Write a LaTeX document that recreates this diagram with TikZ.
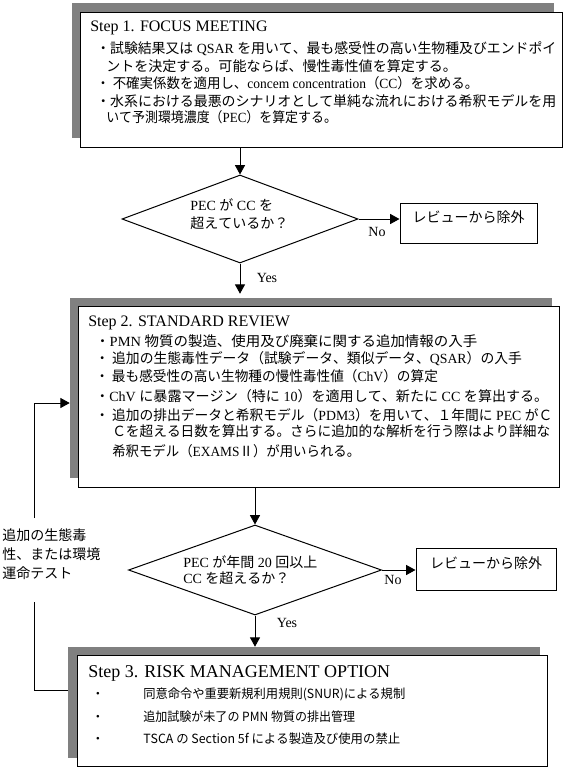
\documentclass[tikz,border=0pt]{standalone}
\usepackage{fontspec}
\usepackage{graphicx}
\setmainfont{Liberation Serif}
\newfontfamily\cjk[Kerning=Off]{Noto Sans CJK JP}
\usetikzlibrary{shapes.geometric,arrows.meta,fit}
\newcommand\jp[1]{{\cjk #1}}
\newcommand\fitto[2]{\resizebox{#1}{\height}{#2}}
\definecolor{shdgray}{HTML}{808080}
\tikzset{
  shd/.style={fill=shdgray, draw=none, inner sep=0pt},
  bx/.style={fill=white, draw=black, line width=0.75pt, inner sep=0pt},
  ln/.style={anchor=west, inner sep=0pt, text height=7.5pt, text depth=2pt, font=\fontsize{10.5}{12}\selectfont},
  ln3/.style={anchor=west, inner sep=0pt, text height=7pt, text depth=2pt, font=\cjk\fontsize{9.5}{11}\selectfont},
  ttl/.style={anchor=west, inner sep=0pt, font=\fontsize{12}{14}\selectfont},
  mt/.style={anchor=west, inner sep=0pt, align=left},
  lab/.style={inner sep=0pt, font=\fontsize{10.5}{12}\selectfont},
  dia/.style={diamond, draw=black, line width=0.75pt, inner sep=0pt, fill=white},
  arr/.style={draw, line width=0.75pt, -{Triangle[length=7pt,width=7.5pt]}},
  lin/.style={draw, line width=0.75pt}
}
\begin{document}
\begin{tikzpicture}[x=0.75pt,y=-0.75pt]
\useasboundingbox (0,0) rectangle (565,769);
% ---------- Step 1 ----------
\node[shd, fit={(72,3)(554,138)}] (s1) {};
\node[bx, fit={(80,12)(562,147)}] (b1) {};
\node[ttl] (t1) at (90,28) {Step 1. FOCUS MEETING};
\node[ln] (l11) at (96,50) {\fitto{345pt}{\jp{・試験結果又は} QSAR \jp{を用いて、最も感受性の高い生物種及びエンドポイ}}};
\node[ln] (l12) at (106,68) {\fitto{263pt}{\jp{ントを決定する。可能ならば、慢性毒性値を算定する。}}};
\node[ln] (l13) at (96,85) {\fitto{286.5pt}{\jp{・ 不確実係数を適用し、}concem concentration\jp{（}CC\jp{）を求める。}}};
\node[ln] (l14) at (96,103) {\fitto{345pt}{\jp{・水系における最悪のシナリオとして単純な流れにおける希釈モデルを用}}};
\node[ln] (l15) at (106,119) {\fitto{173pt}{\jp{いて予測環境濃度（}PEC\jp{）を算定する。}}};
% ---------- Decision 1 ----------
\node[dia, minimum width=177pt, minimum height=66pt] (d1) at (240,219) {};
\node[mt, font=\fontsize{10.5}{13.5}\selectfont] (q1) at (190,214) {PEC \jp{が} CC \jp{を}\\\jp{超えているか？}};
\node[bx, fit={(400,203)(537,243)}, font=\cjk\fontsize{10.5}{12}\selectfont] (r1) {レビューから除外};
\node[lab] (no1) at (377,232) {No};
\node[lab] (yes1) at (267,278) {Yes};
% ---------- Step 2 ----------
\node[shd, fit={(70,298)(552,478)}] (s2) {};
\node[bx, fit={(78,306)(559,487)}] (b2) {};
\node[ttl] (t2) at (88,323) {Step 2. STANDARD REVIEW};
\node[ln] (l21) at (95,343) {\fitto{286.5pt}{\jp{・}PMN \jp{物質の製造、使用及び廃棄に関する追加情報の入手}}};
\node[ln] (l22) at (95,360) {\fitto{320pt}{\jp{・ 追加の生態毒性データ（試験データ、類似データ、}QSAR\jp{）の入手}}};
\node[ln] (l23) at (95,378) {\fitto{257pt}{\jp{・ 最も感受性の高い生物種の慢性毒性値（}ChV\jp{）の算定}}};
\node[ln] (l24) at (95,398) {\fitto{339.75pt}{\jp{・}ChV \jp{に暴露マージン（特に} 10\jp{）を適用して、新たに} CC \jp{を算出する。}}};
\node[ln] (l25) at (95,417) {\fitto{342.75pt}{\jp{・ 追加の排出データと希釈モデル（}PDM3\jp{）を用いて、１年間に} PEC \jp{がＣ}}};
\node[ln] (l26) at (112,433) {\fitto{328.5pt}{\jp{Ｃを超える日数を算出する。さらに追加的な解析を行う際はより詳細な}}};
\node[ln] (l27) at (112,453) {\fitto{186pt}{\jp{希釈モデル（}EXAMS\jp{Ⅱ）が用いられる。}}};
% ---------- Decision 2 ----------
\node[dia, minimum width=189.75pt, minimum height=67.5pt] (d2) at (255,570) {};
\node[mt, font=\fontsize{10.5}{12}\selectfont] (q2) at (183,570) {PEC \jp{が年間} 20 \jp{回以上}\\CC \jp{を超えるか？}};
\node[bx, fit={(416,548)(556,590)}, font=\cjk\fontsize{10.5}{12}\selectfont] (r2) {レビューから除外};
\node[lab] (no2) at (393,580) {No};
\node[lab] (yes2) at (287,623) {Yes};
% ---------- Step 3 ----------
\node[shd, fit={(68,647)(540,758)}] (s3) {};
\node[bx, fit={(77,655)(547,766)}] (b3) {};
\node[ttl, font=\fontsize{13.5}{15}\selectfont] (t3) at (88,673) {Step 3. RISK MANAGEMENT OPTION};
\node[inner sep=0pt, font=\cjk\fontsize{9.5}{11}\selectfont] (p1) at (98,695) {・};
\node[inner sep=0pt, font=\cjk\fontsize{9.5}{11}\selectfont] (p2) at (98,718) {・};
\node[inner sep=0pt, font=\cjk\fontsize{9.5}{11}\selectfont] (p3) at (98,740) {・};
\node[ln3] (l31) at (143,695) {\fitto{196.5pt}{同意命令や重要新規利用規則(SNUR)による規制}};
\node[ln3] (l32) at (143,718) {\fitto{159pt}{追加試験が未了の PMN 物質の排出管理}};
\node[ln3] (l33) at (143,740) {\fitto{192.75pt}{TSCA の Section 5f による製造及び使用の禁止}};
% ---------- feedback label ----------
\node[mt, font=\cjk\fontsize{10.5}{14.25}\selectfont] (fbl) at (2,554) {追加の生態毒\\性、または環境\\運命テスト};
\coordinate (fa) at (34,690);
\coordinate (fb) at (34,602);
\coordinate (fc) at (34,518);
\coordinate (fd) at (34,403);
% ---------- connectors ----------
\draw[arr] (d1.north |- b1.south) -- (d1.north);
\draw[arr] (d1.south) -- ([yshift=3pt]d1.south |- s2.north);
\draw[arr] (d1.east) -- (d1.east -| r1.west);
\draw[arr] (d2.north |- b2.south) -- (d2.north);
\draw[arr] (d2.south) -- (d2.south |- s3.north);
\draw[arr] (d2.east) -- (d2.east -| r2.west);
\draw[lin] (fa -| s3.west) -- (fa) -- (fb);
\draw[arr] (fc) -- (fd) -- (fd -| s2.west);
\end{tikzpicture}
\end{document}
